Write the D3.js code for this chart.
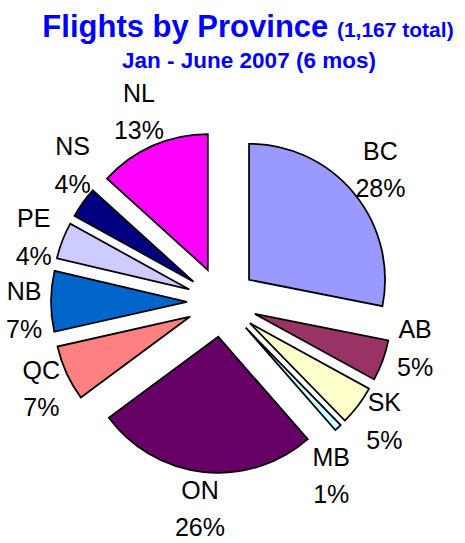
<!DOCTYPE html>
<html>
<head>
<meta charset="utf-8">
<script src="https://cdn.jsdelivr.net/npm/d3@7"></script>
<style>
  body { margin: 0; background: #fff; }
  text { font-family: "Liberation Sans", Arial, sans-serif; }
</style>
</head>
<body>
<div id="chart"></div>
<script>
const provinces = ["BC", "AB", "SK", "MB", "ON", "QC", "NB", "PE", "NS", "NL"];
const flights = [328, 57, 55, 10, 307, 77, 84, 51, 43, 155];
const colors = ["#9999FF", "#993366", "#FFFFCC", "#CCFFFF", "#660066",
  "#FF8080", "#0066CC", "#CCCCFF", "#000080", "#FF00FF"];
const titleText = "Flights by Province";
const subtitleText = "Jan - June 2007 (6 mos)";

const width = 465, height = 543;
const cx = 222, cy = 302;
const radius = 136, explode = 35;
const labelDist = 180;

const total = d3.sum(flights);
const pct = d3.format(".0%");

const svg = d3.select("#chart")
  .append("svg")
  .attr("width", width)
  .attr("height", height);

// title
const title = svg.append("text")
  .attr("x", 248)
  .attr("y", 37)
  .attr("text-anchor", "middle")
  .attr("fill", "#0000FF")
  .attr("font-weight", "bold");
title.append("tspan").attr("font-size", 31).text(titleText + " ");
title.append("tspan").attr("font-size", 21).text(`(${d3.format(",")(total)} total)`);

svg.append("text")
  .attr("x", 249)
  .attr("y", 68)
  .attr("text-anchor", "middle")
  .attr("fill", "#0000FF")
  .attr("font-weight", "bold")
  .attr("font-size", 22.5)
  .text(subtitleText);

const data = provinces.map((p, i) => ({ name: p, value: flights[i], color: colors[i] }));

const pie = d3.pie().sort(null).value(d => d.value);
const arcs = pie(data);

const arc = d3.arc().innerRadius(0).outerRadius(radius);

const mid = d => (d.startAngle + d.endAngle) / 2;

const g = svg.append("g").attr("transform", `translate(${cx},${cy})`);

g.selectAll("path")
  .data(arcs)
  .join("path")
  .attr("d", arc)
  .attr("fill", d => d.data.color)
  .attr("stroke", "#000")
  .attr("stroke-width", 1.75)
  .attr("stroke-linejoin", "miter")
  .attr("transform", d => {
    const a = mid(d);
    return `translate(${Math.sin(a) * explode},${-Math.cos(a) * explode})`;
  });

// labels
const labels = g.selectAll("g.label")
  .data(arcs)
  .join("g")
  .attr("class", "label");

labels.append("text")
  .attr("text-anchor", "middle")
  .attr("font-size", 25)
  .attr("fill", "#000")
  .attr("y", -10)
  .text(d => d.data.name);

labels.append("text")
  .attr("text-anchor", "middle")
  .attr("font-size", 25)
  .attr("fill", "#000")
  .attr("y", 27.5)
  .text(d => pct(d.data.value / total));

// label box sits outside the pie along the slice's middle angle,
// then labels that crowd each other get spread apart
const nodes = arcs.map((d, i) => {
  const bb = labels.nodes()[i].getBBox();
  return { a: mid(d), w: bb.width, h: 56 };
});
const pos = n => {
  const s = Math.sin(n.a), c = -Math.cos(n.a);
  return [s * (labelDist + n.w / 2), c * (labelDist + n.h / 2)];
};
const pad = 16, step = 0.004;
for (let it = 0; it < 400; it++) {
  let moved = false;
  for (let i = 0; i < nodes.length; i++) {
    const n1 = nodes[i], n2 = nodes[(i + 1) % nodes.length];
    const [x1, y1] = pos(n1), [x2, y2] = pos(n2);
    if (Math.abs(x1 - x2) < (n1.w + n2.w) / 2 + pad &&
        Math.abs(y1 - y2) < (n1.h + n2.h) / 2 + pad) {
      n1.a -= step;
      n2.a += step;
      moved = true;
    }
  }
  if (!moved) break;
}

labels.attr("transform", (d, i) => `translate(${pos(nodes[i])})`);
</script>
</body>
</html>
